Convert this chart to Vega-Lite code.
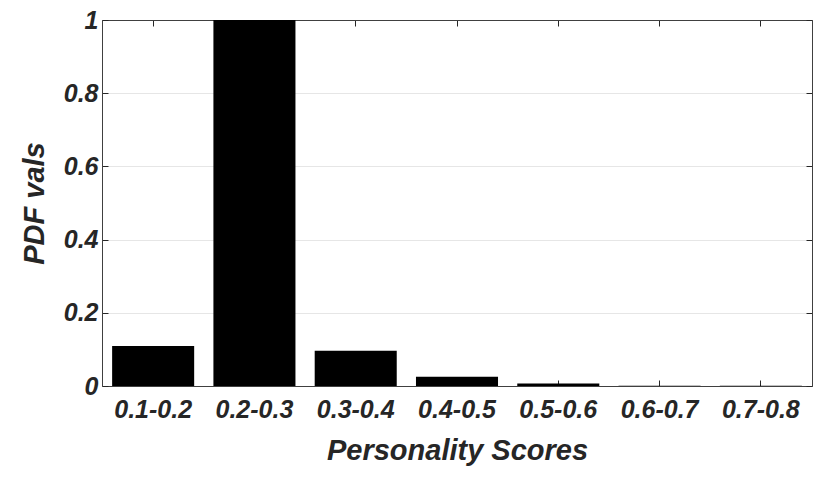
{
  "$schema": "https://vega.github.io/schema/vega-lite/v6.json",
  "width": 710,
  "height": 366,
  "autosize": {"type": "none"},
  "padding": {"left": 102, "top": 20, "right": 18, "bottom": 91},
  "background": "white",
  "config": {
    "view": {"stroke": "#404040", "strokeWidth": 1},
    "font": "Liberation Sans",
    "axis": {
      "labelFont": "Liberation Sans",
      "labelFontStyle": "italic",
      "labelFontWeight": "bold",
      "labelFontSize": 25,
      "labelColor": "#262626",
      "titleFont": "Liberation Sans",
      "titleFontStyle": "italic",
      "titleFontWeight": "bold",
      "titleFontSize": 29,
      "titleColor": "#262626",
      "domainColor": "#404040",
      "tickColor": "#262626",
      "tickSize": -6,
      "gridColor": "#e6e6e6"
    }
  },
  "data": {
    "values": [
      {"score": "0.1-0.2", "pdf": 0.109},
      {"score": "0.2-0.3", "pdf": 1.0},
      {"score": "0.3-0.4", "pdf": 0.096},
      {"score": "0.4-0.5", "pdf": 0.025},
      {"score": "0.5-0.6", "pdf": 0.007},
      {"score": "0.6-0.7", "pdf": 0.001},
      {"score": "0.7-0.8", "pdf": 0.001}
    ]
  },
  "layer": [
    {
      "mark": {"type": "bar", "color": "black"},
      "encoding": {
        "x": {
          "field": "score", "type": "nominal", "sort": null,
          "scale": {"paddingInner": 0.19, "paddingOuter": 0.1},
          "axis": {"title": "Personality Scores", "labelAngle": 0, "labelPadding": 17, "titlePadding": 14, "grid": false}
        },
        "y": {
          "field": "pdf", "type": "quantitative",
          "scale": {"domain": [0, 1], "nice": false},
          "axis": {"title": "PDF vals", "values": [0, 0.2, 0.4, 0.6, 0.8, 1], "format": "~g", "labelPadding": 10, "titlePadding": 14, "grid": true}
        }
      }
    },
    {
      "mark": {"type": "bar", "opacity": 0},
      "encoding": {
        "x": {
          "field": "score", "type": "nominal", "sort": null,
          "axis": {"orient": "top", "labels": false, "title": null, "grid": false}
        },
        "y": {
          "field": "pdf", "type": "quantitative",
          "axis": {"orient": "right", "labels": false, "title": null, "values": [0, 0.2, 0.4, 0.6, 0.8, 1], "grid": false}
        }
      }
    }
  ],
  "resolve": {"axis": {"x": "independent", "y": "independent"}}
}
